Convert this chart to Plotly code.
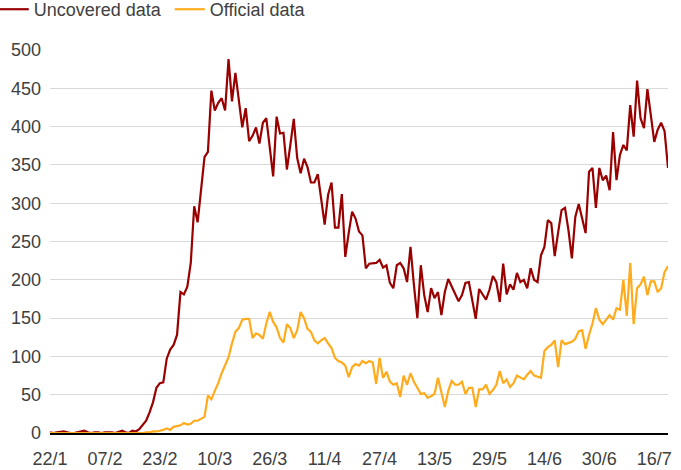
import pandas as pd
import plotly.graph_objects as go

start_date = "2020-01-22"

uncovered = [
    1, 0, 1, 2, 2, 1, 0, 0, 1, 1,
    3, 1, 0, 1, 1, 0, 1, 1, 1, 0,
    1, 3, 1, 0, 3, 2, 5, 10, 16, 27,
    40, 59, 65, 66, 97, 109, 115, 128, 184, 181,
    191, 222, 296, 275, 320, 360, 367, 447, 421, 431,
    437, 421, 488, 433, 470, 432, 399, 424, 381, 388,
    399, 378, 405, 411, 374, 335, 413, 391, 392, 344,
    376, 410, 359, 339, 358, 347, 327, 327, 338, 307,
    272, 311, 327, 268, 268, 312, 230, 261, 289, 280,
    263, 258, 215, 221, 222, 222, 226, 216, 219, 196,
    189, 219, 222, 215, 197, 243, 193, 150, 219, 180,
    158, 189, 176, 184, 154, 184, 201, 191, 180, 172,
    180, 196, 197, 171, 149, 188, 180, 174, 187, 205,
    197, 171, 221, 181, 194, 187, 209, 197, 200, 189,
    215, 200, 197, 232, 243, 278, 274, 231, 262, 291,
    294, 265, 228, 282, 299, 280, 261, 341, 346, 294,
    346, 330, 336, 317, 393, 330, 363, 376, 369, 428,
    387, 460, 411, 398, 449, 415, 380, 396, 405, 394,
    346,
]

official = [
    0, 0, 0, 0, 0, 0, 0, 0, 0, 0,
    0, 0, 0, 0, 0, 0, 0, 0, 0, 0,
    0, 0, 0, 0, 0, 0, 0, 0, 1, 1,
    2, 2, 3, 4, 6, 4, 8, 9, 10, 13,
    11, 12, 16, 16, 18, 21, 49, 44, 55, 65,
    78, 89, 99, 117, 132, 137, 148, 149, 149, 124,
    130, 128, 123, 143, 158, 145, 138, 124, 118, 142,
    137, 124, 134, 158, 150, 136, 132, 121, 117, 121,
    124, 117, 111, 98, 94, 92, 88, 73, 86, 90,
    88, 94, 91, 94, 92, 64, 98, 72, 80, 67,
    63, 65, 47, 75, 63, 78, 67, 59, 51, 52,
    46, 48, 51, 72, 52, 34, 55, 68, 63, 63,
    67, 51, 59, 59, 34, 57, 57, 63, 51, 56,
    63, 81, 65, 70, 60, 65, 75, 72, 70, 76,
    81, 75, 74, 72, 107, 112, 115, 121, 86, 121,
    116, 117, 119, 123, 133, 134, 110, 128, 143, 163,
    148, 142, 148, 154, 148, 163, 161, 200, 153, 222,
    142, 189, 194, 204, 180, 198, 198, 184, 189, 210,
    218,
]

tick_dates = ["2020-01-22", "2020-02-07", "2020-02-23", "2020-03-10",
              "2020-03-26", "2020-04-11", "2020-04-27", "2020-05-13",
              "2020-05-29", "2020-06-14", "2020-06-30", "2020-07-16"]
tick_labels = ["22/1", "07/2", "23/2", "10/3", "26/3", "11/4", "27/4",
               "13/5", "29/5", "14/6", "30/6", "16/7"]
y_ticks = [0, 50, 100, 150, 200, 250, 300, 350, 400, 450, 500]

dates = pd.date_range(start_date, periods=len(uncovered), freq="D")

fig = go.Figure()
fig.add_trace(go.Scatter(x=dates, y=uncovered, mode="lines", name="Uncovered data",
                         line=dict(color="#990000", width=2.2)))
fig.add_trace(go.Scatter(x=dates, y=official, mode="lines", name="Official data",
                         line=dict(color="#FFAB1C", width=2.2)))

fig.update_layout(
    width=681, height=470,
    margin=dict(l=50, r=13, t=50, b=37, autoexpand=False),
    paper_bgcolor="white", plot_bgcolor="white",
    font=dict(family="Liberation Sans, Arial, sans-serif", size=18, color="#404040"),
    showlegend=True,
    legend=dict(orientation="h", x=-0.091, xanchor="left", y=1.154, yanchor="top",
                font=dict(size=18, color="#404040"), itemwidth=30,
                entrywidth=131,
                bgcolor="rgba(0,0,0,0)", traceorder="normal"),
    xaxis=dict(type="date", range=[dates[0], dates[-1]],
               tickvals=tick_dates, ticktext=tick_labels,
               showgrid=False, zeroline=False, showline=True,
               linecolor="black", linewidth=2, ticks="", ticklabelstandoff=8,
               automargin=False),
    yaxis=dict(range=[0, 500], tickvals=y_ticks, showgrid=True,
               gridcolor="#D9D9D9", gridwidth=1, zeroline=False, showline=False,
               ticks="", ticklabelstandoff=8, automargin=False),
)

fig.write_html("out.html", config={"displayModeBar": False},
               post_script="document.body.style.margin='0px';document.body.style.padding='0px';")
